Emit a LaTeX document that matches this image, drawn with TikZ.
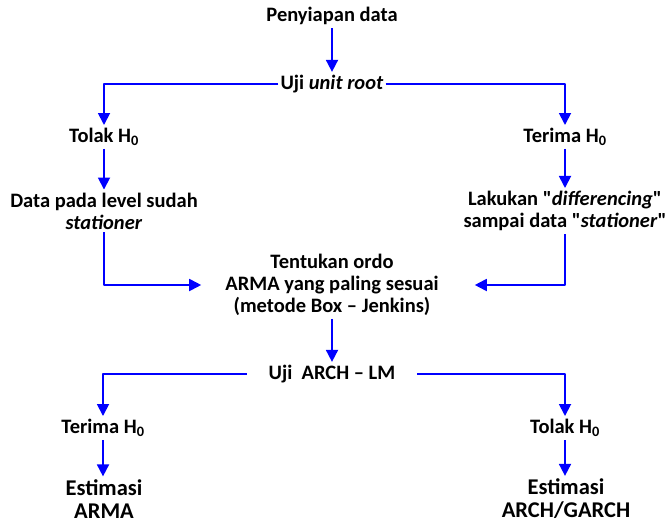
\documentclass[tikz,border=0pt]{standalone}
\usepackage{fontspec}
\setmainfont{Carlito}[Ligatures=TeXOff]
\usetikzlibrary{arrows.meta}
\begin{document}
\begin{tikzpicture}[x=1pt,y=-1pt,>={Triangle[length=12pt,width=12pt]}, font=\fontsize{20.5}{22}\selectfont\bfseries, line join=round]
		\tikzset{flow/.style={->,draw=blue,line width=1.8pt},
			txt/.style={align=center,inner sep=3pt},
			big/.style={txt,font=\fontsize{22.5}{23}\selectfont\bfseries}}
		\useasboundingbox (0,0) rectangle (668,524);
		%	\draw[color=gray!50,dashed] (0,0) grid[step=50] (668,524);
		\node[txt] (prep) at (332,16) {Penyiapan data};
		\node[txt,inner xsep=2pt] (unitroot) at (332,84) {Uji \textit{unit root}};
		\node[txt] (tolakA) at (104,137) {Tolak H\textsubscript{0}};
		\node[txt] (terimaA) at (565,137) {Terima H\textsubscript{0}};
		\node[txt] (levelstat) at (104,211) {Data pada level sudah\\\textit{stationer}};
		\node[txt] (diff) at (565,211) {Lakukan "\textit{differencing}"\\sampai data "\textit{stationer}"};
		\node[txt,inner xsep=24pt] (ordo) at (332,285) {Tentukan ordo\\ARMA yang paling sesuai\\(metode Box – Jenkins)};
		\node[txt,inner xsep=22pt] (archlm) at (332,374) {Uji\ \ ARCH – LM};
		\node[txt] (terimaB) at (103,428) {Terima H\textsubscript{0}};
		\node[txt] (tolakB) at (565,428) {Tolak H\textsubscript{0}};
		\node[big] (estarma) at (104,499) {Estimasi\\ARMA};
		\node[big] (estgarch) at (566,499) {Estimasi\\ARCH/GARCH};
		
		\draw[flow] (prep)--(unitroot);
		\draw[flow] (unitroot)-|(tolakA);
		\draw[flow] (unitroot)-|(terimaA);
		\draw[flow] (tolakA)--(levelstat);
		\draw[flow] (terimaA)--(diff);
		\draw[flow] (levelstat)|-(ordo);
		\draw[flow] (diff)|-([xshift=12pt]ordo.east);
		\draw[flow] (ordo)--(archlm);
		\draw[flow] (archlm)-|(terimaB);
		\draw[flow] (archlm)-|(tolakB);
		\draw[flow] (terimaB.south)--(terimaB.south|-estarma.north);
		\draw[flow] (tolakB.south)--(tolakB.south|-estgarch.north);
\end{tikzpicture}
\end{document}
